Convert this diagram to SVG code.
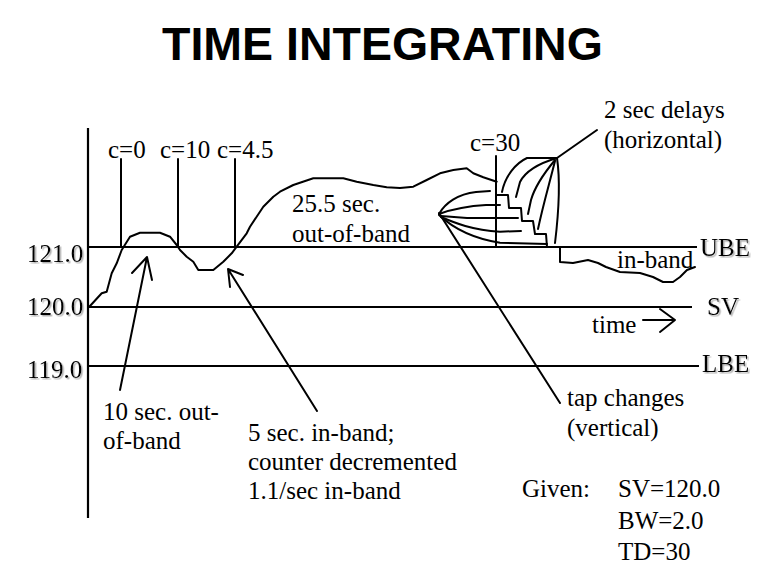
<svg xmlns="http://www.w3.org/2000/svg" width="763" height="588" viewBox="0 0 763 588">
<defs>
<filter id="sh" x="-10%" y="-20%" width="130%" height="150%">
<feDropShadow dx="1.5" dy="1.5" stdDeviation="0.6" flood-color="#a0a0a0" flood-opacity="0.8"/>
</filter>
<style>
.t{font-family:"Liberation Serif","Times New Roman",serif;font-size:25px;fill:#000}
.title{font-family:"Liberation Sans",Arial,sans-serif;font-size:46.5px;font-weight:bold;fill:#000}
.ln{stroke:#000;stroke-width:2;fill:none;stroke-linejoin:round;stroke-linecap:round}
.ax{stroke:#000;stroke-width:2.2;fill:none}
</style>
</defs>
<rect width="763" height="588" fill="#fff"/>
<g id="title"><text class="title" x="162" y="60">TIME INTEGRATING</text></g>

<g id="axes">
<line class="ax" x1="88" y1="128" x2="88" y2="518"/>
<line class="ax" x1="88" y1="247" x2="697" y2="247"/>
<line class="ax" x1="88" y1="307" x2="692" y2="307"/>
<line class="ax" x1="88" y1="366" x2="699" y2="366"/>
</g>

<g id="axis-labels" filter="url(#sh)">
<text class="t" x="27" y="262">121.0</text>
<text class="t" x="27" y="315">120.0</text>
<text class="t" x="27" y="378">119.0</text>
<text class="t" x="700" y="256">UBE</text>
<text class="t" x="707" y="315">SV</text>
<text class="t" x="702" y="372">LBE</text>
</g>

<g id="connectors">
<!-- main voltage trace -->
<path class="ln" d="M88,307 L90,306 L101.7,293.3 L106.7,291.7 L111.7,273.3 L116.7,263.3 L121.7,250 L130,236.7 L140,232.7 L160,232.7 L170,236.7 L176.7,245 L180,250 L186.7,256.7 L193.3,261.7 L198.3,270 L213.3,270 L223.3,261.7 L231.7,253.3 L236.7,246.7 L246.7,233.3 L250,226.7 L263.3,206.7 L273.3,196.7 L280,191.7 L293.3,185 L313.3,178.3 L343.3,178.3 L356.7,181.7 L373.3,185 L386.7,187.3 L400,188 L413.3,186.7 L426.7,180 L440,173.3 L453.3,170 L466.7,168.3 L473.3,173.3 L483.3,177.3 L496.7,181.7"/>
<!-- counter markers -->
<line class="ln" x1="121" y1="159" x2="121" y2="247"/>
<line class="ln" x1="178" y1="159" x2="178" y2="246"/>
<line class="ln" x1="235" y1="159" x2="235" y2="247"/>
<line class="ln" x1="496" y1="156" x2="496" y2="247"/>
<!-- tap change fan -->
<path class="ln" d="M439,214 C445,203 458,194 476,192 L490,191"/>
<path class="ln" d="M439,214 C450,210 466,206 486,205 L500,205"/>
<path class="ln" d="M441,216 L467,218 L518,218"/>
<path class="ln" d="M441,217 C455,223 472,230 500,231.7 L521,231"/>
<path class="ln" d="M439,215 C455,230 476,239 500,242.7 L547,244"/>
<!-- staircase -->
<path class="ln" d="M496,195 H508 L509,208 H521 L522,221 H533 L535,234 H546 L547,247"/>
<!-- delay curves -->
<path class="ln" d="M557,158 L527,158 C516,163 505,176 502,192"/>
<path class="ln" d="M557,158 C540,163 526,170 520,182 L516,197"/>
<path class="ln" d="M555,160 C545,172 535,186 531,200 L528,214"/>
<path class="ln" d="M555,161 C549,185 543,205 538,229"/>
<path class="ln" d="M557,158 C560,178 559,210 555,243"/>
<!-- in-band trace -->
<path class="ln" d="M560,248 L560,262 L573,263 L588,260 L598,263 L606,267 L620,272 L640,273 L653,277 L663,282 L673,282 L680,277 L687,270 L695,267"/>
<!-- leaders -->
<line class="ln" x1="597" y1="130" x2="557" y2="158"/>
<line class="ln" x1="439" y1="213" x2="560" y2="403"/>
<path class="ln" d="M120,390 L147,257 M132,273 L147,257 L152,280"/>
<path class="ln" d="M317,411 L228,269 M243,275 L228,269 L230,287"/>
<!-- time arrow -->
<path class="ln" d="M643,320 L675,320 M660,309 L675,320 L660,332"/>
</g>

<g id="counter-labels">
<text class="t" x="108" y="158">c=0</text>
<text class="t" x="160" y="158">c=10</text>
<text class="t" x="217" y="158">c=4.5</text>
<text class="t" x="470" y="151">c=30</text>
</g>

<g id="note-delays">
<text class="t" x="604" y="118">2 sec delays</text>
<text class="t" x="604" y="148">(horizontal)</text>
</g>
<g id="note-outband">
<text class="t" x="292" y="212">25.5 sec.</text>
<text class="t" x="292" y="242">out-of-band</text>
</g>
<g id="note-inband"><text class="t" x="617" y="268">in-band</text></g>
<g id="note-time"><text class="t" x="592" y="333">time</text></g>
<g id="note-tap">
<text class="t" x="567" y="406">tap changes</text>
<text class="t" x="567" y="436">(vertical)</text>
</g>
<g id="note-10sec">
<text class="t" x="103" y="420">10 sec. out-</text>
<text class="t" x="103" y="449">of-band</text>
</g>
<g id="note-5sec">
<text class="t" x="248" y="441">5 sec. in-band;</text>
<text class="t" x="248" y="470">counter decremented</text>
<text class="t" x="248" y="499">1.1/sec in-band</text>
</g>
<g id="given">
<text class="t" x="522" y="497">Given:</text>
<text class="t" x="618" y="497">SV=120.0</text>
<text class="t" x="618" y="529">BW=2.0</text>
<text class="t" x="618" y="560">TD=30</text>
</g>
</svg>
